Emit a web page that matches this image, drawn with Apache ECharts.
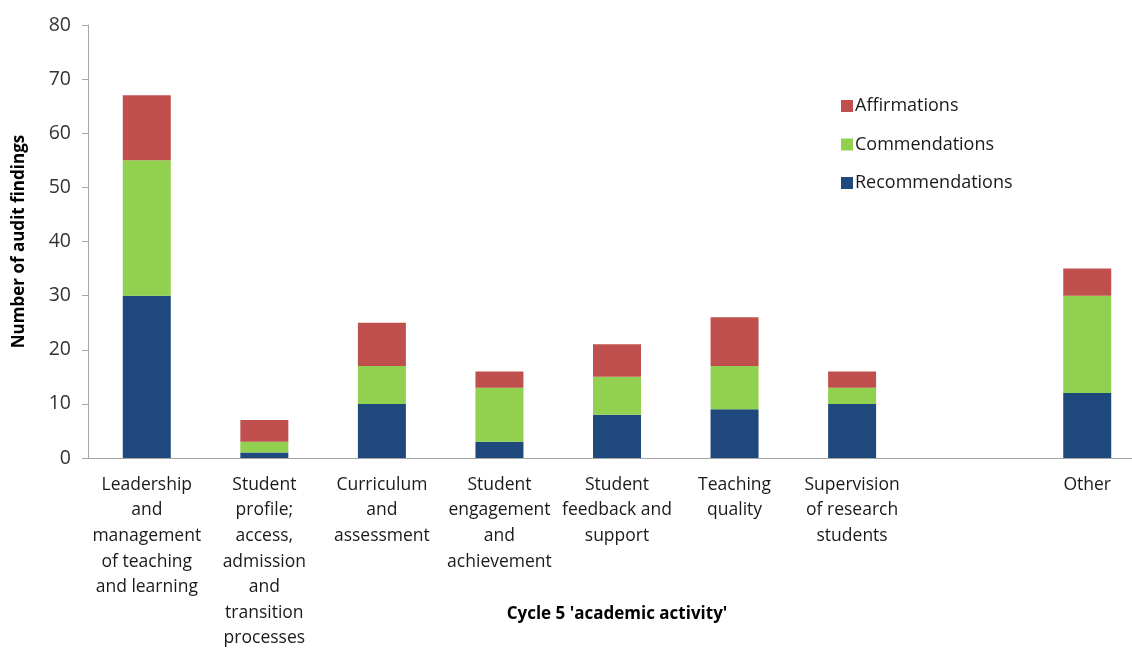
<!DOCTYPE html>
<html>
<head>
<meta charset="utf-8">
<script src="https://cdn.jsdelivr.net/npm/echarts@6/dist/echarts.min.js"></script>
<style>
  html, body { margin: 0; padding: 0; background: #ffffff; }
  #chart { width: 1132px; height: 648px; }
</style>
</head>
<body>
<div id="chart"></div>
<script>
// Audit findings by Cycle 5 academic activity theme
const categories = [
  "Leadership\nand\nmanagement\nof teaching\nand learning",
  "Student\nprofile;\naccess,\nadmission\nand\ntransition\nprocesses",
  "Curriculum\nand\nassessment",
  "Student\nengagement\nand\nachievement",
  "Student\nfeedback and\nsupport",
  "Teaching\nquality",
  "Supervision\nof research\nstudents",
  "",
  "Other"
];
const recommendations = [30, 1, 10, 3, 8, 9, 10, null, 12];
const commendations   = [25, 2,  7, 10, 7, 8,  3, null, 18];
const affirmations    = [12, 4,  8,  3, 6, 9,  3, null,  5];

const FONT = "'Open Sans', Lato, sans-serif";

const chart = echarts.init(document.getElementById('chart'), null, { renderer: 'canvas' });

function barSeries(name, data, color) {
  return {
    name: name,
    type: 'bar',
    stack: 'total',
    barWidth: 48,
    data: data,
    itemStyle: { color: color },
    emphasis: { disabled: true }
  };
}

chart.setOption({
  animation: false,
  textStyle: { fontFamily: FONT },
  grid: { left: 88, right: -14, top: 25, bottom: 190, containLabel: false, outerBoundsMode: 'none' },
  legend: {
    orient: 'vertical',
    left: 836,
    top: 92,
    itemWidth: 12,
    itemHeight: 12,
    itemGap: 20.5,
    icon: 'rect',
    data: ['Affirmations', 'Commendations', 'Recommendations'],
    textStyle: { fontFamily: FONT, fontSize: 18, color: '#1a1a1a', padding: [0, 0, 0, -3] }
  },
  xAxis: {
    type: 'category',
    data: categories,
    name: "Cycle 5 'academic activity'",
    nameLocation: 'middle',
    nameGap: 148,
    nameMoveOverlap: false,
    nameTextStyle: { fontFamily: FONT, fontSize: 17, fontWeight: 'bold', color: '#000000' },
    axisLine: { lineStyle: { color: '#a6a6a6', width: 1 } },
    axisTick: { show: false },
    axisLabel: {
      interval: 0,
      fontFamily: FONT,
      fontSize: 17.5,
      color: '#1a1a1a',
      lineHeight: 25.6,
      margin: 14,
      verticalAlign: 'top'
    }
  },
  yAxis: {
    type: 'value',
    min: 0,
    max: 80,
    interval: 10,
    name: 'Number of audit findings',
    nameLocation: 'middle',
    nameGap: 60,
    nameRotate: 90,
    nameMoveOverlap: false,
    nameTextStyle: { fontFamily: FONT, fontSize: 17, fontWeight: 'bold', color: '#000000' },
    axisLine: { show: true, lineStyle: { color: '#a6a6a6', width: 1 } },
    axisTick: { show: true, length: 6, lineStyle: { color: '#a6a6a6' } },
    splitLine: { show: false },
    axisLabel: { fontFamily: FONT, fontSize: 19.5, color: '#333333', margin: 17 }
  },
  series: [
    barSeries('Recommendations', recommendations, '#1f497d'),
    barSeries('Commendations', commendations, '#92d050'),
    barSeries('Affirmations', affirmations, '#c0504d')
  ]
});
</script>
</body>
</html>
